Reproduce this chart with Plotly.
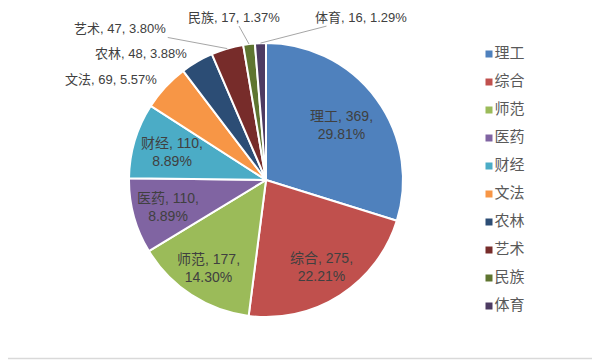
import math
import plotly.graph_objects as go

categories = ["理工", "综合", "师范", "医药", "财经", "文法", "农林", "艺术", "民族", "体育"]
values = [369, 275, 177, 110, 110, 69, 48, 47, 17, 16]
colors = ["#4F81BD", "#C0504D", "#9BBB59", "#8064A2", "#4BACC6",
          "#F79646", "#2C4D75", "#772C2A", "#5F7530", "#4D3B62"]

# the page body adds an 8px margin; the figure is sized so it ends at the window edge
PAD = 8
W, H = 600 - PAD, 360 - PAD
FONT = "Liberation Sans, Noto Sans CJK SC, sans-serif"
TXT = "#404040"


def px(X):  # window x pixel -> paper x
    return (X - PAD) / W


def py(Y):  # window y pixel -> paper y
    return 1 - (Y - PAD) / H


# pie geometry in window pixels
CX, CY, R = 266, 180, 137

fig = go.Figure()
fig.add_trace(go.Pie(
    labels=categories,
    values=values,
    sort=False,
    direction="clockwise",
    rotation=0,
    marker=dict(colors=colors, line=dict(color="white", width=2)),
    textinfo="none",
    domain=dict(x=[px(CX - R), px(CX + R)], y=[py(CY + R), py(CY - R)]),
    showlegend=False,
    hoverinfo="label+value+percent",
))

# label placement style: inside labels -> radial fraction; outside -> pixel offset from slice edge
inside_frac = {"理工": 0.68, "综合": 0.755, "师范": 0.77, "医药": 0.745, "财经": 0.715}
outside_off = {
    "文法": (-54, -8, False),
    "农林": (-56, -8, False),
    "艺术": (-107, -20, True),
    "民族": (-15, -27, True),
    "体育": (101, -26, True),
}

total = sum(values)
annotations = []
cum = 0
for cat, v in zip(categories, values):
    mid = (cum + v / 2) / total
    cum += v
    ang = 2 * math.pi * mid
    pct = f"{v / total * 100:.2f}%"
    if cat in inside_frac:
        f = inside_frac[cat]
        x = CX + f * R * math.sin(ang)
        y = CY - f * R * math.cos(ang)
        annotations.append(dict(
            x=px(x), y=py(y), xref="paper", yref="paper",
            xanchor="center", yanchor="middle",
            text=f"{cat}, {v},<br>{pct}", showarrow=False,
            font=dict(family=FONT, size=14, color=TXT),
        ))
        continue
    ex = CX + R * math.sin(ang)
    ey = CY - R * math.cos(ang)
    dx, dy, line = outside_off[cat]
    txt = f"{cat}, {v}, {pct}"
    if line:
        annotations.append(dict(
            x=px(ex), y=py(ey), xref="paper", yref="paper",
            ax=dx, ay=dy, axref="pixel", ayref="pixel",
            text=txt, showarrow=True, arrowhead=0, arrowwidth=1,
            arrowcolor="#A6A6A6", standoff=0, startstandoff=0,
            font=dict(family=FONT, size=13, color=TXT),
        ))
    else:
        annotations.append(dict(
            x=px(ex + dx), y=py(ey + dy), xref="paper", yref="paper",
            xanchor="center", yanchor="middle",
            text=txt, showarrow=False,
            font=dict(family=FONT, size=13, color=TXT),
        ))

# legend drawn as a marker column on hidden pixel-scaled axes
LEG_X, LEG_Y0, LEG_STEP = 489, 54, 28
fig.add_trace(go.Scatter(
    x=[0] * len(categories),
    y=list(range(len(categories))),
    mode="markers+text",
    marker=dict(symbol="square", size=7, color=colors),
    text=categories,
    textposition="middle right",
    textfont=dict(family=FONT, size=15, color="#595959"),
    hoverinfo="skip",
    showlegend=False,
    cliponaxis=False,
))

fig.update_layout(
    width=W, height=H,
    margin=dict(l=0, r=0, t=0, b=0),
    paper_bgcolor="white",
    plot_bgcolor="rgba(0,0,0,0)",
    xaxis=dict(domain=[0, 1], range=[-(LEG_X - PAD), W - (LEG_X - PAD)],
               visible=False, fixedrange=True),
    yaxis=dict(domain=[0, 1],
               range=[(H - (LEG_Y0 - PAD)) / LEG_STEP, -(LEG_Y0 - PAD) / LEG_STEP],
               visible=False, fixedrange=True),
    annotations=annotations,
    shapes=[
        dict(type="line", xref="paper", yref="paper", x0=px(597.5), x1=px(597.5), y0=0, y1=1,
             line=dict(color="#D9D9D9", width=1.5)),
        dict(type="line", xref="paper", yref="paper", x0=0, x1=1, y0=py(358.5), y1=py(358.5),
             line=dict(color="#D9D9D9", width=1.5)),
    ],
)

fig.write_html("out.html")
